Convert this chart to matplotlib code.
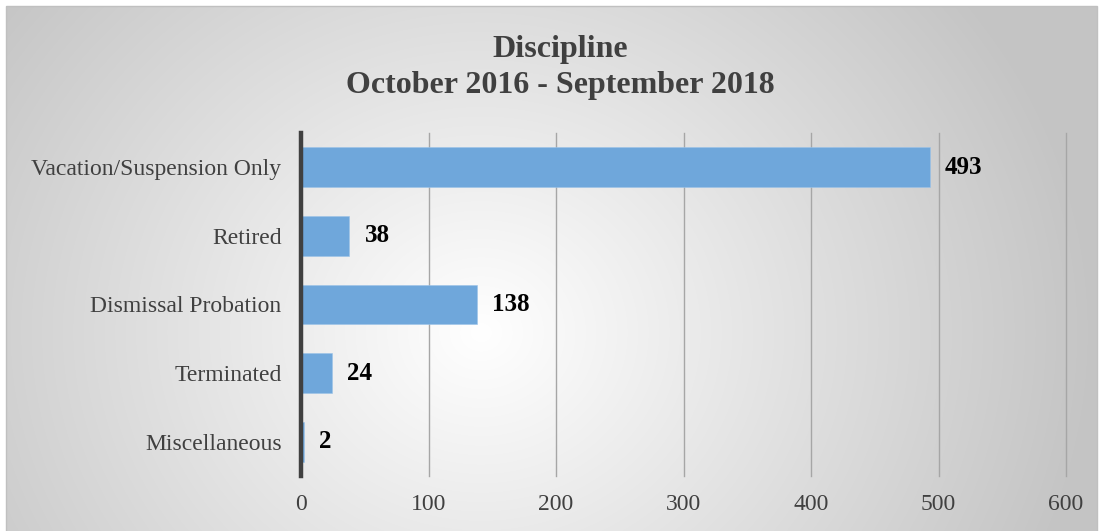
import numpy as np
import matplotlib
matplotlib.use("Agg")
import matplotlib.pyplot as plt

categories = ["Vacation/Suspension Only", "Retired", "Dismissal Probation", "Terminated", "Miscellaneous"]
values = [493, 38, 138, 24, 2]
xticks = [0, 100, 200, 300, 400, 500, 600]
title_line1 = "Discipline"
title_line2 = "October 2016 - September 2018"

W, H, DPI = 1103, 531, 100
fig = plt.figure(figsize=(W / DPI, H / DPI), dpi=DPI)
fig.patch.set_facecolor("white")

# radial gradient background
bg = fig.add_axes([6 / W, 0, 1 - 12 / W, 1 - 6 / H])
yy, xx = np.mgrid[0:H, 0:W]
cx, cy = 480, 330
r = np.sqrt(((xx - cx) / 1.0) ** 2 + ((yy - cy) / 0.9) ** 2)
t = np.clip(r / 620.0, 0, 1)
val = 1.0 - 0.23 * t
img = np.dstack([val, val, val])
bg.imshow(img, aspect="auto", extent=[0, 1, 0, 1], origin="upper")
bg.set_axis_off()

# border line
fig.add_artist(plt.Rectangle((6 / W, -0.01), 1 - 12 / W, 1 - 6 / H + 0.01, transform=fig.transFigure,
                             fill=False, edgecolor="#c0c0c0", linewidth=1.0))

left, right = 301 / W, 1066 / W
top, bottom = 1 - 133 / H, 1 - 476 / H
ax = fig.add_axes([left, bottom, right - left, top - bottom])
ax.patch.set_alpha(0)

ypos = np.arange(len(categories))
ax.barh(ypos, values, height=0.58, color="#6fa7db", edgecolor="#9cc3e8", linewidth=0.4, zorder=3)
ax.set_xlim(0, 600)
ax.set_ylim(len(categories) - 0.5, -0.5)
ax.set_xticks(xticks)
ax.set_xticklabels([str(v) for v in xticks], fontsize=17, color="#404040", family="Liberation Serif")
ax.set_yticks(ypos)
ax.set_yticklabels(categories, fontsize=17, color="#404040", family="Liberation Serif")
ax.tick_params(axis="both", length=0)
ax.tick_params(axis="x", pad=13)
ax.tick_params(axis="y", pad=14)
ax.grid(axis="x", color="#a6a6a6", linewidth=1.0, zorder=0)
for gl in ax.get_xgridlines():
    gl.set_clip_on(False)
for s in ["top", "right", "bottom"]:
    ax.spines[s].set_visible(False)
ax.spines["left"].set_color("#404040")
ax.spines["left"].set_linewidth(3.2)
ax.spines["left"].set_zorder(4)

for y, v in zip(ypos, values):
    ax.annotate(str(v), (v, y), xytext=(11, 0), textcoords="offset points", va="center", ha="left",
                fontsize=18, fontweight="bold", color="black", family="Liberation Serif")

fig.text(0.5 + 9 / W, 1 - 49 / H, title_line1, ha="center", va="center", fontsize=23, fontweight="bold",
         color="#404040", family="Liberation Serif")
fig.text(0.5 + 9 / W, 1 - 85 / H, title_line2, ha="center", va="center", fontsize=23, fontweight="bold",
         color="#404040", family="Liberation Serif")

fig.savefig("out.png", dpi=DPI)
